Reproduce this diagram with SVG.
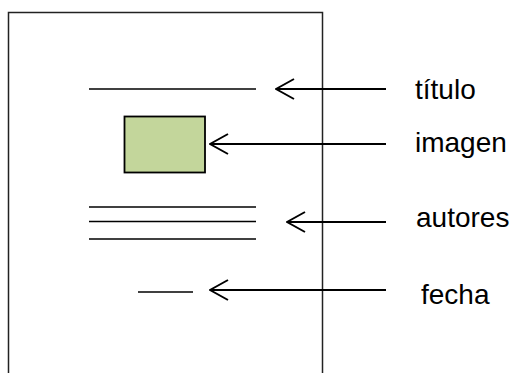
<svg xmlns="http://www.w3.org/2000/svg" width="515" height="373" viewBox="0 0 515 373">
  <style>
    .page { fill: #ffffff; stroke: #222222; stroke-width: 1.5; }
    .rule { stroke: #000000; stroke-width: 1.5; fill: none; }
    .pic { fill: #c3d69b; stroke: #000000; stroke-width: 1.8; }
    .conn { stroke: #000000; stroke-width: 2; fill: none; }
    .label { font-family: "Liberation Sans", Arial, sans-serif; font-size: 28px; fill: #000000; }
  </style>
  <defs>
    <!-- open chevron head; tip sits at the line's end point -->
    <marker id="head" viewBox="0 0 20 24" refX="19" refY="12" markerWidth="20" markerHeight="24" markerUnits="userSpaceOnUse" orient="auto">
      <path d="M1,2 L19,12 L1,22" fill="none" stroke="#000000" stroke-width="2"/>
    </marker>
  </defs>
  <rect width="515" height="373" fill="#ffffff"/>

  <g id="page">
    <rect class="page" x="8.5" y="12.5" width="314" height="380"/>
  </g>

  <g id="title-line">
    <line class="rule" x1="89" y1="89" x2="256" y2="89"/>
  </g>

  <g id="image-box">
    <rect class="pic" x="124.5" y="116.5" width="80.5" height="56"/>
  </g>

  <g id="author-lines">
    <line class="rule" x1="89" y1="207" x2="256" y2="207"/>
    <line class="rule" x1="89" y1="221.5" x2="256" y2="221.5"/>
    <line class="rule" x1="89" y1="239" x2="256" y2="239"/>
  </g>

  <g id="date-line">
    <line class="rule" x1="138" y1="292" x2="193" y2="292"/>
  </g>

  <g id="connectors">
    <line class="conn" x1="386" y1="89" x2="276" y2="89" marker-end="url(#head)"/>
    <line class="conn" x1="386" y1="144" x2="210" y2="144" marker-end="url(#head)"/>
    <line class="conn" x1="386" y1="222" x2="287" y2="222" marker-end="url(#head)"/>
    <line class="conn" x1="386" y1="290" x2="210" y2="290" marker-end="url(#head)"/>
  </g>

  <g id="labels">
    <text class="label" x="415" y="98.5">título</text>
    <text class="label" x="415" y="151.5">imagen</text>
    <text class="label" x="416" y="226.5">autores</text>
    <text class="label" x="421" y="304">fecha</text>
  </g>
</svg>
